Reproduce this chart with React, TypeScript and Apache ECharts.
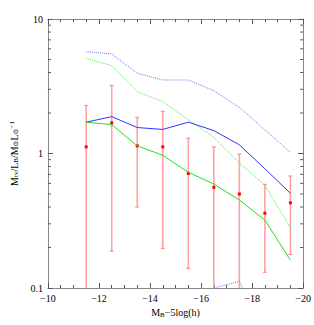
import React, { useEffect, useRef } from "react";
import * as echarts from "echarts";

const xs = [-11.5, -12.5, -13.5, -14.5, -15.5, -16.5, -17.5, -18.5, -19.5];
const ratio = [1.12, 1.69, 1.14, 1.12, 0.71, 0.56, 0.5, 0.36, 0.43];
const errHigh = [2.28, 3.21, 1.86, 2.06, 1.3, 1.12, 0.99, 0.59, 0.68];
const errLow = [0.05, 0.188, 0.4, 0.197, 0.14, 0.05, 0.05, 0.131, 0.177];
const greenSolid = [1.71, 1.64, 1.14, 0.97, 0.725, 0.593, 0.451, 0.32, 0.161];
const blueSolid = [1.71, 1.88, 1.56, 1.51, 1.71, 1.48, 1.16, 0.77, 0.506];
const greenDotted = [5.1, 4.5, 2.88, 2.43, 1.78, 1.32, 0.85, 0.58, 0.28];
const blueDotted = [5.71, 5.5, 3.95, 3.52, 3.52, 2.93, 2.2, 1.5, 1.02];
const blueDottedLow = [null, null, null, null, null, 0.1, 0.112, 0.045, null];
const yMinorTicks = [0.2, 0.3, 0.4, 0.5, 0.6, 0.7, 0.8, 0.9, 2, 3, 4, 5, 6, 7, 8, 9];
const Y_MIN = 0.1;
const Y_MAX = 10;

const pair = (arr: (number | null)[]) => xs.map((x, i) => [x, arr[i]]);

export default function App() {
  const ref = useRef<HTMLDivElement>(null);
  useEffect(() => {
    if (!ref.current) return;
    document.body.style.margin = "0";
    const chart = echarts.init(ref.current, null, { renderer: "svg" });
    const font = "'Liberation Serif', 'DejaVu Serif', serif";
    const frame = "#888888";
    const tickColor = "#555555";
    const xAxisBase = {
      type: "value",
      min: -20,
      max: -10,
      interval: 2,
      inverse: true,
      splitLine: { show: false },
      axisLine: { show: true, onZero: false, lineStyle: { color: frame, width: 1 } },
      axisTick: { show: true, inside: true, length: 5, lineStyle: { color: tickColor } },
      minorTick: { show: true, splitNumber: 4, length: 3, lineStyle: { color: tickColor } },
    };
    const yAxisBase = {
      type: "log",
      logBase: 10,
      min: Y_MIN,
      max: Y_MAX,
      splitLine: { show: false },
      axisLine: { show: true, onZero: false, lineStyle: { color: frame, width: 1 } },
      axisTick: { show: true, inside: true, length: 5, lineStyle: { color: tickColor } },
    };
    chart.setOption({
      animation: false,
      backgroundColor: "#ffffff",
      grid: { left: 34, right: 10, top: 19, bottom: 37 },
      xAxis: [
        {
          ...xAxisBase,
          position: "bottom",
          axisLabel: {
            show: true,
            fontFamily: font,
            fontSize: 10,
            color: "#000",
            margin: 5,
            formatter: (v: number) => String(v).replace("-", "\u2212"),
          },
          name: "{m|M}{s|B}{m|\u22125log(h)}",
          nameLocation: "middle",
          nameGap: 19,
          nameTextStyle: {
            rich: {
              m: { fontFamily: font, fontSize: 10, color: "#000" },
              s: { fontFamily: font, fontSize: 7, color: "#000", padding: [4, 0, 0, 0] },
            },
          },
        },
        { ...xAxisBase, position: "top", axisLabel: { show: false } },
      ],
      yAxis: [
        {
          ...yAxisBase,
          position: "left",
          axisLabel: {
            show: true,
            fontFamily: font,
            fontSize: 10,
            color: "#000",
            margin: 5,
            formatter: (v: number) => String(parseFloat(v.toPrecision(3))),
          },
          name: "{m|M}{s|tv}{m|/L}{s|B}{m|/M}{s|\u2299}{m|L}{s|\u2299}{p|\u22121}",
          nameLocation: "middle",
          nameGap: 20,
          nameRotate: 90,
          nameTextStyle: {
            rich: {
              m: { fontFamily: font, fontSize: 10, color: "#000" },
              s: { fontFamily: font, fontSize: 7, color: "#000", padding: [4, 0, 0, 0] },
              p: { fontFamily: font, fontSize: 7, color: "#000", padding: [0, 0, 5, 0] },
            },
          },
        },
        { ...yAxisBase, position: "right", axisLabel: { show: false } },
      ],
      series: [
        {
          type: "custom",
          name: "yminor",
          xAxisIndex: 0,
          yAxisIndex: 0,
          silent: true,
          data: yMinorTicks.map((v) => [-10, v]),
          encode: { x: 0, y: 1 },
          renderItem: (params: any, api: any) => {
            const p = api.coord([-10, api.value(1)]);
            const cs = params.coordSys;
            const style = { stroke: tickColor, lineWidth: 1 };
            return {
              type: "group",
              children: [
                { type: "line", shape: { x1: cs.x, y1: p[1], x2: cs.x + 3, y2: p[1] }, style },
                { type: "line", shape: { x1: cs.x + cs.width - 3, y1: p[1], x2: cs.x + cs.width, y2: p[1] }, style },
              ],
            };
          },
        },
        {
          type: "line",
          data: pair(blueDotted),
          symbol: "none",
          lineStyle: { color: "#7777ff", width: 1, type: [1, 1] },
        },
        {
          type: "line",
          data: pair(blueDottedLow),
          symbol: "none",
          connectNulls: false,
          lineStyle: { color: "#7777ff", width: 1, type: [1, 1] },
        },
        {
          type: "line",
          data: pair(greenDotted),
          symbol: "none",
          lineStyle: { color: "#44ee44", width: 1, type: [1, 1] },
        },
        {
          type: "line",
          data: pair(blueSolid),
          symbol: "none",
          lineStyle: { color: "#3333ff", width: 1 },
        },
        {
          type: "line",
          data: pair(greenSolid),
          symbol: "none",
          lineStyle: { color: "#22dd22", width: 1 },
        },
        {
          type: "custom",
          name: "errors",
          data: xs.map((x, i) => [x, ratio[i], errLow[i], errHigh[i]]),
          encode: { x: 0, y: 1 },
          renderItem: (params: any, api: any) => {
            const x = api.value(0);
            const y = api.value(1);
            const lo = api.value(2);
            const hi = api.value(3);
            const clipped = lo < Y_MIN;
            const pc = api.coord([x, y]);
            const ph = api.coord([x, hi]);
            const pl = api.coord([x, clipped ? Y_MIN : lo]);
            const barStyle = { stroke: "#ffa0a0", lineWidth: 1.6 };
            const capStyle = { stroke: "#ff8080", lineWidth: 1 };
            const children: any[] = [
              { type: "line", shape: { x1: pc[0], y1: ph[1], x2: pc[0], y2: pl[1] }, style: barStyle },
              { type: "line", shape: { x1: pc[0] - 2, y1: ph[1], x2: pc[0] + 2, y2: ph[1] }, style: capStyle },
            ];
            if (!clipped) {
              children.push({ type: "line", shape: { x1: pc[0] - 2, y1: pl[1], x2: pc[0] + 2, y2: pl[1] }, style: capStyle });
            }
            children.push({
              type: "rect",
              shape: { x: pc[0] - 1.5, y: pc[1] - 1.5, width: 3, height: 3 },
              style: { fill: "#ff0000" },
            });
            return { type: "group", children };
          },
        },
      ],
    });
    return () => chart.dispose();
  }, []);
  return <div ref={ref} style={{ width: 314, height: 325 }} />;
}
